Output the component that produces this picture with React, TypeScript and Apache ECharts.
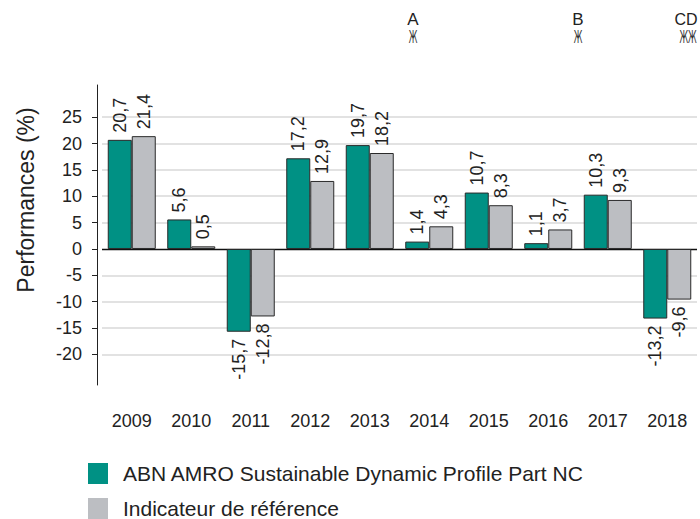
import React, { useEffect, useRef } from "react";
import * as echarts from "echarts";

const years = ["2009", "2010", "2011", "2012", "2013", "2014", "2015", "2016", "2017", "2018"];
const fundValues = [20.7, 5.6, -15.7, 17.2, 19.7, 1.4, 10.7, 1.1, 10.3, -13.2];
const benchValues = [21.4, 0.5, -12.8, 12.9, 18.2, 4.3, 8.3, 3.7, 9.3, -9.6];
const yTicks = [-20, -15, -10, -5, 0, 5, 10, 15, 20, 25];
const seriesNames = ["ABN AMRO Sustainable Dynamic Profile Part NC", "Indicateur de référence"];
const yTitle = "Performances (%)";
const markers = ["A", "B", "CD"];

const FONT = "Liberation Sans, Arial, sans-serif";
const TEAL = "#009184";
const GRAY = "#bcbec2";

const fmt = (v: number) => v.toFixed(1).replace(".", ",");

const toItems = (vals: number[]) =>
  vals.map((v) => ({
    value: v,
    label: v < 0 ? { position: "bottom", align: "right" } : { position: "top", align: "left" },
  }));

const barSeries = (name: string, vals: number[], color: string, withGrid: boolean) => {
  const s: any = {
    name,
    type: "bar",
    data: toItems(vals),
    barWidth: 24,
    barGap: "0%",
    z: 2,
    itemStyle: { color, borderColor: "#2a2a2a", borderWidth: 1 },
    label: {
      show: true,
      rotate: 90,
      verticalAlign: "middle",
      distance: 7,
      fontSize: 18,
      fontFamily: FONT,
      color: "#222",
      formatter: (p: any) => fmt(p.value),
    },
  };
  if (withGrid) {
    s.markLine = {
      silent: true,
      symbol: ["none", "none"],
      z: 1,
      label: { show: false },
      emphasis: { disabled: true },
      data: yTicks.map((t) => ({
        yAxis: t,
        lineStyle: t === 0 ? { color: "#111", width: 1.3, type: "solid" } : { color: "#d9d9d9", width: 1.6, type: "solid" },
      })),
    };
  }
  return s;
};

export default function App() {
  const ref = useRef<HTMLDivElement>(null);
  useEffect(() => {
    document.body.style.margin = "0";
    const chart = echarts.init(ref.current!, null, { renderer: "svg" });
    const markerText = (t: string, x: number, size: number) => ({
      type: "text",
      x,
      y: 19,
      style: { text: t, fontSize: size, fontFamily: FONT, fill: "#222", align: "center", verticalAlign: "middle" },
    });
    const markerSym = (t: string, x: number) => ({
      type: "text",
      x,
      y: 37,
      scaleY: 2.1,
      style: { text: t, fontSize: 8, fontFamily: "DejaVu Sans", fill: "#333", align: "center", verticalAlign: "middle" },
    });
    chart.setOption({
      animation: false,
      grid: { left: 102, right: 3, top: 85, bottom: 134, containLabel: false },
      legend: {
        orient: "vertical",
        left: 88,
        top: 463,
        padding: 0,
        icon: "rect",
        itemWidth: 20,
        itemHeight: 21,
        itemGap: 14,
        itemStyle: { borderWidth: 0 },
        textStyle: { fontSize: 21, fontFamily: FONT, color: "#222", padding: [0, 0, 0, 10] },
        data: seriesNames,
      },
      xAxis: {
        type: "category",
        data: years,
        position: "bottom",
        axisLine: { show: false, onZero: false },
        axisTick: { show: false },
        axisLabel: { margin: 27, fontSize: 18, fontFamily: FONT, color: "#222" },
        splitLine: { show: false },
      },
      yAxis: {
        type: "value",
        min: -25.8,
        max: 31.1,
        offset: 5,
        axisLine: { show: true, lineStyle: { color: "#222", width: 1 } },
        axisTick: { show: true, length: 5, customValues: yTicks, lineStyle: { color: "#222" } },
        axisLabel: {
          customValues: yTicks,
          margin: 15,
          fontSize: 18,
          fontFamily: FONT,
          color: "#222",
        },
        splitLine: { show: false },
      },
      graphic: [
        {
          type: "text",
          x: 26,
          y: 200,
          rotation: Math.PI / 2,
          style: { text: yTitle, fontSize: 23, fontFamily: FONT, fill: "#222", align: "center", verticalAlign: "middle" },
        },
        markerText(markers[0], 413, 17),
        markerSym("Ж", 413),
        markerText(markers[1], 578, 17),
        markerSym("Ж", 578),
        markerText(markers[2], 686, 16),
        markerSym("ЖЖ", 688),
      ],
      series: [barSeries(seriesNames[0], fundValues, TEAL, true), barSeries(seriesNames[1], benchValues, GRAY, false)],
    });
    return () => chart.dispose();
  }, []);
  return <div ref={ref} style={{ width: 700, height: 519 }} />;
}
